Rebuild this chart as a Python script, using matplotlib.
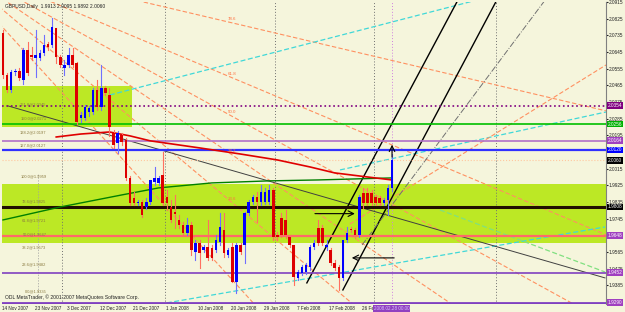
import matplotlib
matplotlib.use("Agg")
import matplotlib.pyplot as plt
from matplotlib.patches import Rectangle

plt.rcParams["font.family"] = ["Liberation Sans", "DejaVu Sans"]

# GBPUSD daily, bar 0 = 14 Nov 2007 (MT4 keeps Sunday bars)
opens = [2.0748, 2.0521, 2.0440, 2.0537, 2.0543, 2.0494, 2.0656, 2.0629, 2.0613, 2.0613,
         2.0640, 2.0688, 2.0683, 2.0775, 2.0618, 2.0559, 2.0575, 2.0629, 2.0586, 2.0289,
         2.0289, 2.0321, 2.0321, 2.0440, 2.0348, 2.0451, 2.0413, 2.0208, 2.0154, 2.0197,
         2.0170, 1.9965, 1.9857, 1.9830, 1.9835, 1.9808, 1.9835, 1.9943, 1.9938, 1.9981,
         1.9862, 1.9808, 1.9781, 1.9738, 1.9711, 1.9668, 1.9711, 1.9565, 1.9614, 1.9576,
         1.9592, 1.9587, 1.9576, 1.9619, 1.9684, 1.9549, 1.9592, 1.9403, 1.9603, 1.9603,
         1.9776, 1.9835, 1.9862, 1.9835, 1.9835, 1.9835, 1.9900, 1.9657, 1.9749, 1.9738,
         1.9646, 1.9603, 1.9425, 1.9452, 1.9457, 1.9484, 1.9592, 1.9695, 1.9695, 1.9592,
         1.9576, 1.9506, 1.9484, 1.9425, 1.9630, 1.9689, 1.9684, 1.9657, 1.9884, 1.9884,
         1.9884, 1.9862, 1.9857, 1.9830, 1.9846, 1.9913]
highs = [2.0764, 2.0532, 2.0548, 2.0553, 2.0559, 2.0667, 2.0699, 2.0672, 2.0764, 2.0656,
         2.0737, 2.0699, 2.0829, 2.0775, 2.0629, 2.0602, 2.0667, 2.0667, 2.0591, 2.0321,
         2.0359, 2.0354, 2.0451, 2.0494, 2.0575, 2.0462, 2.0451, 2.0224, 2.0219, 2.0208,
         2.0181, 1.9976, 1.9889, 1.9846, 1.9846, 1.9857, 1.9954, 2.0024, 1.9976, 2.0105,
         1.9900, 1.9846, 1.9873, 1.9765, 1.9727, 1.9749, 1.9727, 1.9630, 1.9630, 1.9603,
         1.9738, 1.9603, 1.9657, 1.9776, 1.9776, 1.9587, 1.9614, 1.9614, 1.9614, 1.9781,
         1.9846, 1.9873, 1.9889, 1.9927, 1.9911, 1.9927, 1.9911, 1.9673, 1.9776, 1.9792,
         1.9657, 1.9603, 1.9468, 1.9495, 1.9506, 1.9603, 1.9630, 1.9738, 1.9711, 1.9630,
         1.9587, 1.9522, 1.9495, 1.9630, 1.9700, 1.9700, 1.9695, 1.9873, 1.9911, 1.9911,
         1.9900, 1.9873, 1.9868, 1.9857, 1.9927, 2.0095]
lows = [2.0505, 2.0429, 2.0429, 2.0521, 2.0494, 2.0472, 2.0521, 2.0602, 2.0510, 2.0602,
        2.0629, 2.0656, 2.0672, 2.0586, 2.0564, 2.0521, 2.0564, 2.0564, 2.0256, 2.0267,
        2.0278, 2.0300, 2.0310, 2.0332, 2.0332, 2.0413, 2.0192, 2.0127, 2.0100, 2.0143,
        1.9954, 1.9819, 1.9819, 1.9819, 1.9754, 1.9797, 1.9824, 1.9927, 1.9927, 1.9819,
        1.9792, 1.9727, 1.9695, 1.9695, 1.9657, 1.9657, 1.9549, 1.9522, 1.9479, 1.9565,
        1.9522, 1.9522, 1.9565, 1.9603, 1.9538, 1.9538, 1.9403, 1.9344, 1.9554, 1.9506,
        1.9765, 1.9824, 1.9727, 1.9819, 1.9824, 1.9824, 1.9630, 1.9630, 1.9646, 1.9641,
        1.9592, 1.9387, 1.9414, 1.9441, 1.9446, 1.9468, 1.9581, 1.9603, 1.9603, 1.9576,
        1.9495, 1.9468, 1.9360, 1.9414, 1.9619, 1.9673, 1.9641, 1.9646, 1.9803, 1.9819,
        1.9819, 1.9819, 1.9819, 1.9819, 1.9765, 1.9892]
closes = [2.0521, 2.0440, 2.0537, 2.0543, 2.0505, 2.0656, 2.0532, 2.0618, 2.0629, 2.0640,
          2.0683, 2.0672, 2.0780, 2.0618, 2.0575, 2.0575, 2.0629, 2.0575, 2.0267, 2.0305,
          2.0348, 2.0343, 2.0440, 2.0348, 2.0451, 2.0424, 2.0240, 2.0143, 2.0208, 2.0159,
          1.9965, 1.9830, 1.9830, 1.9835, 1.9765, 1.9835, 1.9954, 1.9965, 1.9965, 1.9830,
          1.9830, 1.9738, 1.9770, 1.9711, 1.9668, 1.9711, 1.9576, 1.9614, 1.9560, 1.9592,
          1.9533, 1.9533, 1.9630, 1.9700, 1.9560, 1.9576, 1.9403, 1.9603, 1.9565, 1.9776,
          1.9835, 1.9862, 1.9835, 1.9889, 1.9889, 1.9900, 1.9646, 1.9646, 1.9657, 1.9657,
          1.9603, 1.9430, 1.9457, 1.9484, 1.9495, 1.9592, 1.9614, 1.9614, 1.9614, 1.9603,
          1.9506, 1.9479, 1.9425, 1.9630, 1.9668, 1.9684, 1.9657, 1.9862, 1.9830, 1.9830,
          1.9830, 1.9830, 1.9830, 1.9846, 1.9911, 2.0060]

date_labels = ["14 Nov 2007", "23 Nov 2007", "3 Dec 2007", "12 Dec 2007", "21 Dec 2007",
               "1 Jan 2008", "10 Jan 2008", "20 Jan 2008", "29 Jan 2008", "7 Feb 2008",
               "17 Feb 2008", "26 Fe"]
date_bars = [0, 8, 16, 24, 32, 40, 48, 56, 64, 72, 80, 88]
month_bars = [15, 40, 67, 91, 121]
# price scale labels (2.0105 and 1.9655 sit under level boxes and are not shown)
price_ticks = [2.0915, 2.0825, 2.0735, 2.0645, 2.0555, 2.0465, 2.0375, 2.0285, 2.0195,
               2.0015, 1.9925, 1.9835, 1.9745, 1.9565, 1.9475, 1.9385]

# moving averages (bar, price)
ma_red_bars = [13, 19, 26, 31, 36, 48, 58, 67, 75, 81, 89, 95]
ma_red = [2.0186, 2.0202, 2.0213, 2.0192, 2.0165, 2.0127, 2.0094, 2.0062, 2.0024, 1.9992, 1.9970, 1.9954]
ma_green_bars = [0, 14, 29, 38, 51, 65, 77, 95]
ma_green = [1.9738, 1.9808, 1.9873, 1.9911, 1.9938, 1.9949, 1.9954, 1.9965]

# horizontal levels: price, colour, width, style, label text, label box colour
hlines = [
    (2.0354, "#800080", 1.2, ":", "2.0354", "#800080"),
    (2.0256, "#00c000", 1.2, "-", "2.0256", "#00b000"),
    (2.0165, "#b070c8", 1.2, "-", "2.0164", "#a040c0"),
    (2.0116, "#3030ff", 1.6, "-", "2.0120", "#0000ff"),
    (2.0060, "#ffc8a0", 0.8, ":", "2.0060", "#000000"),
    (1.9808, "#201000", 2.2, "-", "1.9808", "#000000"),
    (1.9652, "#ff6a6a", 1.6, "-", "1.9648", "#a040c0"),
    (1.9452, "#8040c0", 1.2, "-", "1.9452", "#a040c0"),
    (1.9290, "#8040c0", 2.0, "-", "1.9290", "#a040c0"),
]

# zones
zone_left = (-0.24, 31.5, 2.0240, 2.0462)
zone_band = (1.9614, 1.9932)

# fibonacci retracement on the left
fib_low, fib_high = 1.9335, 1.9959
fib_levels = [0.0, 23.6, 38.2, 50.0, 61.8, 78.6, 100.0, 127.0, 138.2, 150.0, 161.8]

# fibonacci fan: anchor A (high off-chart) and B (low)
fan_a = (-16.6, 2.1180)
fan_b = (56.0, 1.9414)
fan_levels = [23.6, 38.2, 50.0, 61.8, 78.6]

# trend lines: (bar0, price0, bar1, price1)
trend_dark = (1.2, 2.0354, 147.0, 1.9425)
fork_black = [(74.2, 1.9398, 111.1, 2.0926), (83.0, 1.9360, 120.6, 2.0926)]
fork_mid = (87.7, 1.9603, 132.4, 2.0926)
cyan_lines = [(26.1, 2.0413, 115.8, 2.0926), (82.3, 2.0008, 147.25, 2.0321),
              (40.0, 1.9290, 147.0, 1.9700)]
green_diag = (106.7, 1.9792, 147.0, 1.9457)
salmon_up = (84.7, 1.9716, 147.25, 2.0575)

BG = "#f5f5dc"
W, H = 625, 312
fig = plt.figure(figsize=(W / 100, H / 100), dpi=100)
fig.patch.set_facecolor(BG)
ax = fig.add_axes([2 / W, (H - 304) / H, 604 / W, 302 / H])
ax.set_facecolor(BG)
ax.set_xlim(-0.24, 147.25)
ax.set_ylim(1.9284, 2.0915)

# zones
ax.add_patch(Rectangle((zone_left[0], zone_left[2]), zone_left[1] - zone_left[0],
                       zone_left[3] - zone_left[2], color="#bce825", lw=0, zorder=0))
ax.axhspan(zone_band[0], zone_band[1], color="#bce825", lw=0, zorder=0)

# month separators
for b in month_bars:
    ax.axvline(b - 0.5, color="#707070", lw=0.7, ls=(0, (1, 2)), zorder=1)
ax.axvline(95, color="#d080e0", lw=0.7, ls=(0, (1, 2)), zorder=1)

# fan lines
for lv in [0.0] + fan_levels:
    p = fan_b[1] + lv / 100 * (fan_a[1] - fan_b[1])
    slope = (p - fan_a[1]) / (fan_b[0] - fan_a[0])
    ax.plot([fan_a[0], 150], [fan_a[1], fan_a[1] + slope * (150 - fan_a[0])],
            color="#ff9060", lw=0.8, ls=(0, (4, 2)), zorder=2)
    if lv > 0:
        ax.text(fan_b[0], p + 0.0012, f"{lv:.1f}", color="#ff7040", fontsize=3.2,
                ha="center", va="bottom", zorder=6)

def seg(line, **kw):
    ax.plot([line[0], line[2]], [line[1], line[3]], **kw)

for ln in cyan_lines:
    seg(ln, color="#40d8d8", lw=0.9, ls=(0, (4, 2)), zorder=2)
seg(green_diag, color="#80e080", lw=0.9, ls=(0, (4, 2)), zorder=2)
seg(salmon_up, color="#ff9060", lw=0.8, ls=(0, (4, 2)), zorder=2)
seg(trend_dark, color="#404040", lw=0.7, zorder=3)
for ln in fork_black:
    seg(ln, color="#000000", lw=1.0, zorder=3)
seg(fork_mid, color="#707070", lw=0.7, ls="-.", zorder=3)

# horizontal levels
for price, col, lw, ls, lab, box in hlines:
    ax.axhline(price, color=col, lw=lw, ls=ls, zorder=3)
    ax.text(1.0025, price, lab, transform=ax.get_yaxis_transform(), fontsize=3.4,
            color="white", va="center", ha="left", zorder=8, clip_on=False,
            bbox=dict(boxstyle="square,pad=0.2", fc=box, ec="none"))

# fibonacci retracement labels
ax.plot([8.5, 8.5], [fib_low, fib_high + 0.0027], color="#a0a0a0", lw=0.5, ls=(0, (2, 2)), zorder=2)
for lv in fib_levels:
    p = fib_low + lv / 100 * (fib_high - fib_low)
    ax.text(10.6, p + 0.0004, f"{lv:.1f}@{p:.4f}", fontsize=2.9, color="#8a7a40",
            ha="right", va="bottom", zorder=6)

# moving averages
ax.plot(ma_green_bars, ma_green, color="#008000", lw=1.0, zorder=4)
ax.plot(ma_red_bars, ma_red, color="#e00000", lw=1.2, zorder=4)

# candles
for i, (o, h, l, c) in enumerate(zip(opens, highs, lows, closes)):
    up = c >= o
    ax.plot([i, i], [l, h], color="#7070ff" if up else "#ff7060", lw=0.8, zorder=5)
    ax.bar(i, max(abs(c - o), 0.0003), bottom=min(o, c), width=0.62,
           color="#0000ff" if up else "#dd0000", lw=0, zorder=5)

# hand-drawn arrows
ax.annotate("", xy=(86.6, 1.9772), xytext=(75.5, 1.9772),
            arrowprops=dict(arrowstyle="->", color="black", lw=0.8), zorder=7)
ax.annotate("", xy=(84.5, 1.9533), xytext=(96.2, 1.9533),
            arrowprops=dict(arrowstyle="->", color="black", lw=0.8), zorder=7)
ax.annotate("", xy=(95, 2.0159), xytext=(95, 2.0062),
            arrowprops=dict(arrowstyle="->", color="black", lw=0.8), zorder=7)

# axes decoration
for s in ["top", "left", "bottom"]:
    ax.spines[s].set_visible(False)
ax.spines["right"].set_color("#808080")
ax.spines["right"].set_linewidth(0.8)
ax.yaxis.tick_right()
ax.set_yticks(price_ticks)
ax.set_yticklabels([f"{t:.4f}" for t in price_ticks])
ax.tick_params(axis="y", labelsize=3.4, length=1.2, pad=0.8, colors="#202020")
ax.set_xticks([])
for b, lab in zip(date_bars, date_labels):
    ax.text(b - 0.3, 1.9284 - 0.0010, lab, fontsize=3.3, ha="left", va="top",
            color="#202020", clip_on=False)
ax.text(90.6, 1.9284 - 0.0010, "2008.02.28 00:00", fontsize=3.3, ha="left", va="top",
        color="#d8c0ff", clip_on=False, zorder=9,
        bbox=dict(boxstyle="square,pad=0.15", fc="#9040c0", ec="none"))

ax.text(0.5, 2.0905, "GBPUSD,Daily  %.4f %.4f %.4f %.4f" % (opens[-1], highs[-1], lows[-1], closes[-1]),
        fontsize=3.5, ha="left", va="top", color="#202020", zorder=9)
ax.text(0.5, 1.9303, "ODL MetaTrader, \u00a9 2001-2007 MetaQuotes Software Corp.",
        fontsize=3.6, ha="left", va="bottom", color="#202020", zorder=9)

fig.savefig("out.png", dpi=100, facecolor=BG)
